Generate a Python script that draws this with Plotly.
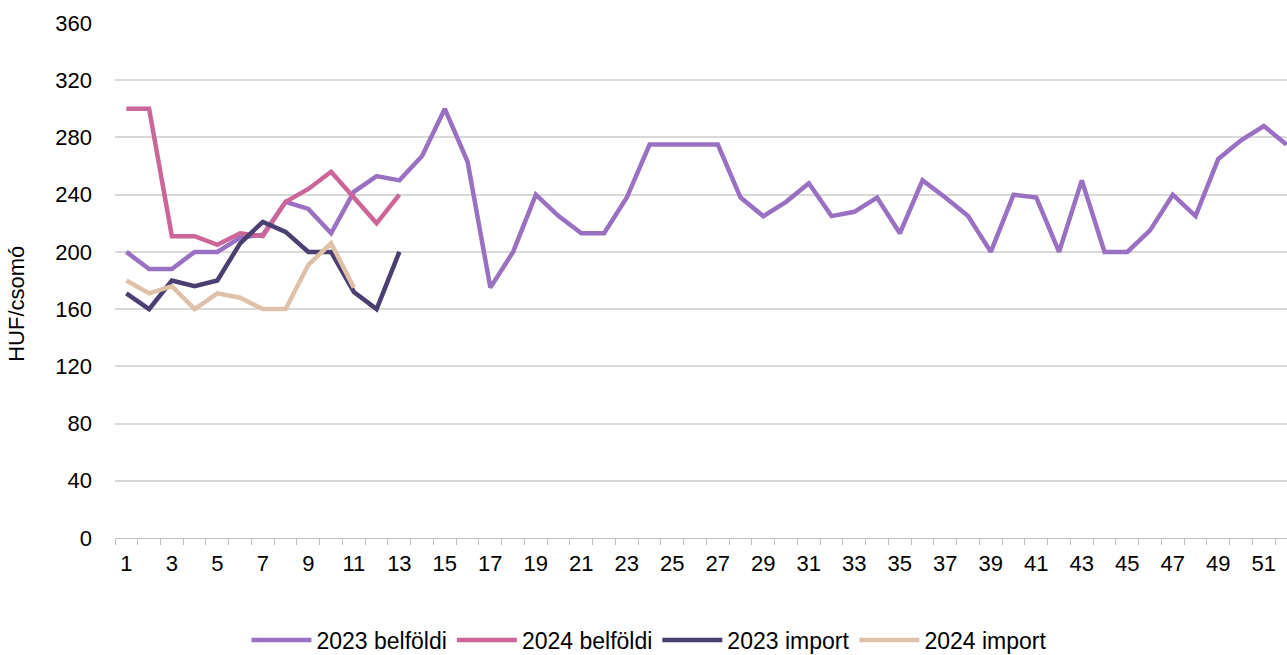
import plotly.graph_objects as go

weeks_2023 = list(range(1, 53))
weeks_2024 = list(range(1, 14))
weeks_2024_imp = list(range(1, 12))

belfoldi_2023 = [200, 188, 188, 200, 200, 210, 212, 235, 230, 213,
                 242, 253, 250, 267, 300, 263, 175, 200, 240, 225,
                 213, 213, 238, 275, 275, 275, 275, 238, 225, 235,
                 248, 225, 228, 238, 213, 250, 238, 225, 200, 240,
                 238, 200, 250, 200, 200, 215, 240, 225, 265, 278,
                 288, 275]
belfoldi_2024 = [300, 300, 211, 211, 205, 213, 211, 235, 244, 256, 238, 220, 240]
import_2023 = [171, 160, 180, 176, 180, 206, 221, 214, 200, 200, 172, 160, 200]
import_2024 = [180, 171, 176, 160, 171, 168, 160, 160, 191, 206, 175]

series_names = ["2023 belföldi", "2024 belföldi", "2023 import", "2024 import"]
colors = ["#9A70C3", "#CC6699", "#4B3F72", "#DFC0A8"]

x_tickvals = list(range(1, 53, 2))
y_tickvals = list(range(0, 361, 40))

FONT = "Liberation Sans, Arial, sans-serif"

fig = go.Figure()
for name, xs, ys, c in [
    (series_names[0], weeks_2023, belfoldi_2023, colors[0]),
    (series_names[1], weeks_2024, belfoldi_2024, colors[1]),
    (series_names[2], weeks_2024, import_2023, colors[2]),
    (series_names[3], weeks_2024_imp, import_2024, colors[3]),
]:
    fig.add_trace(go.Scatter(x=xs, y=ys, mode="lines", name=name,
                             line=dict(color=c, width=4.5, shape="linear"),
                             hoverinfo="x+y+name"))

fig.update_layout(
    width=1287, height=655,
    margin=dict(l=115, r=0, t=23, b=117, autoexpand=False),
    paper_bgcolor="white", plot_bgcolor="white",
    font=dict(family=FONT, size=22, color="#000000"),
    showlegend=True,
    legend=dict(orientation="h", x=0.456, xanchor="center", y=-0.198, yanchor="middle",
                font=dict(family=FONT, size=23, color="#000000"),
                itemwidth=60, tracegroupgap=0, traceorder="normal"),
)

fig.update_xaxes(
    range=[0.5, 52.02],
    tickmode="array", tickvals=x_tickvals, ticktext=[str(v) for v in x_tickvals],
    ticks="", showgrid=False, zeroline=False,
    showline=True, linecolor="#BFBFBF", linewidth=1.3,
    ticklabelstandoff=5,
    minor=dict(tick0=0.5, dtick=1, ticks="outside", ticklen=6, tickcolor="#BFBFBF",
               tickwidth=1.3, showgrid=False),
    tickfont=dict(family=FONT, size=22, color="#000000"),
)
fig.update_yaxes(
    range=[0, 360],
    tickmode="array", tickvals=y_tickvals, ticktext=[str(v) for v in y_tickvals],
    showgrid=True, gridcolor="#D9D9D9", gridwidth=1.5,
    zeroline=False, showline=False, ticks="",
    ticklabelstandoff=22,
    tickfont=dict(family=FONT, size=22, color="#000000"),
)

fig.add_annotation(text="HUF/csomó", textangle=-90, xref="paper", yref="paper",
                   x=-0.0835, y=0.455, xanchor="center", yanchor="middle",
                   showarrow=False, font=dict(family=FONT, size=22, color="#000000"))

fig.write_html("out.html", config={"displayModeBar": False},
               post_script="document.body.style.margin='0';document.body.style.padding='0';")
